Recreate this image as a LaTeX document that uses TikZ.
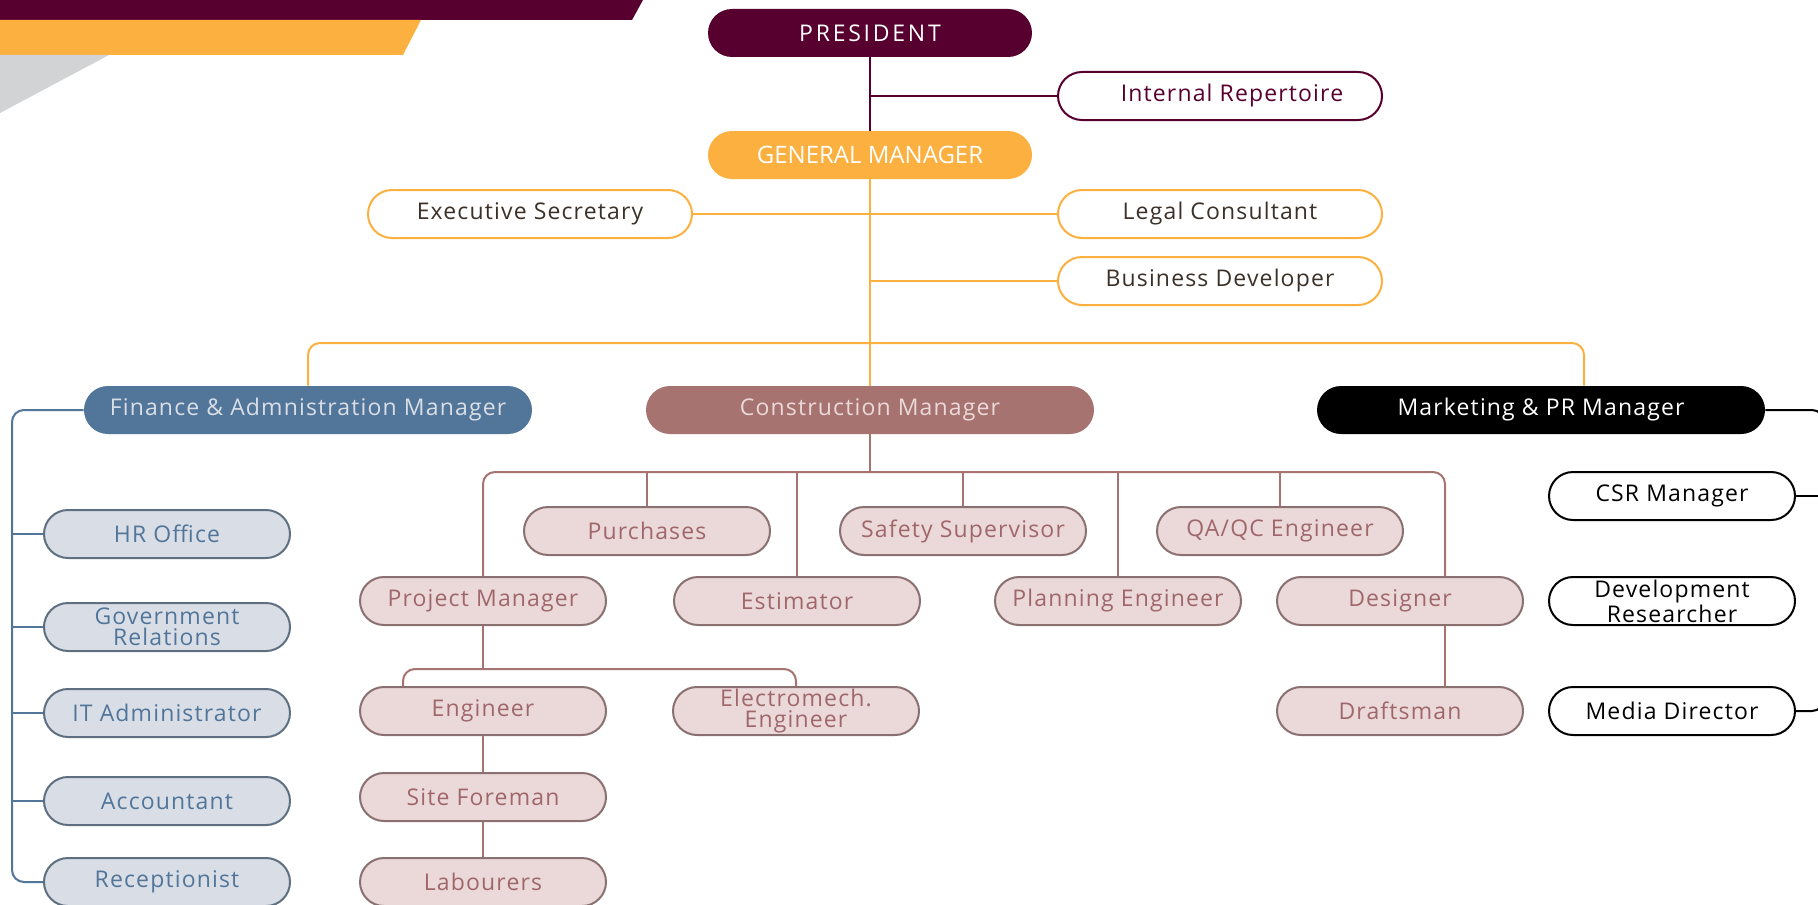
\documentclass[tikz,border=0pt]{standalone}
\usepackage{fontspec}
\setmainfont{Open Sans}
\usepackage{tikz}

\definecolor{maroon}{HTML}{570030}
\definecolor{gold}{HTML}{FBB040}
\definecolor{bandgray}{HTML}{D1D3D4}
\definecolor{finblue}{HTML}{52759A}
\definecolor{finpale}{HTML}{D9DEE6}
\definecolor{finedge}{HTML}{5E6F80}
\definecolor{conrose}{HTML}{A67371}
\definecolor{conpale}{HTML}{EBD9D9}
\definecolor{conedge}{HTML}{8A7070}
\definecolor{context}{HTML}{A0676B}
\definecolor{staffink}{HTML}{3C3129}

\tikzset{
  pill/.style={rectangle, rounded corners=12pt, minimum height=24pt, inner sep=1pt,
    align=center, font=\fontsize{11.5}{10.5}\selectfont\addfontfeatures{LetterSpace=5}},
  chief/.style={pill, minimum width=162pt, text=white},
  staff/.style={pill, draw=gold, line width=1pt, fill=white, text=staffink, minimum width=162pt},
  head/.style={pill, minimum width=224pt},
  finsub/.style={pill, draw=finedge, line width=1pt, fill=finpale, text=finblue, minimum width=123pt},
  consub/.style={pill, draw=conedge, line width=1pt, fill=conpale, text=context, minimum width=123pt},
  mktsub/.style={pill, draw=black, line width=1pt, fill=white, text=black, minimum width=123pt},
  link/.style={line width=1pt, rounded corners=6pt}
}

\begin{document}
\begin{tikzpicture}[x=0.5pt, y=-0.5pt]
  \useasboundingbox (0,0) rectangle (1818,904);
  %% corner bands
  \fill[maroon] (0,0) -- (643,0) -- (632,20) -- (0,20) -- cycle;
  \fill[gold] (0,20) -- (421,20) -- (403,55) -- (0,55) -- cycle;
  \fill[bandgray] (0,55) -- (109,55) -- (0,113) -- cycle;

  %% top
  \node[chief, fill=maroon, font=\fontsize{11.5}{12}\selectfont\addfontfeatures{LetterSpace=12}] (pres) at (870,33) {PRESIDENT};
  \node[staff, draw=maroon, text=maroon] (intrep) at (1220,96) {\hspace*{12pt}Internal Repertoire};
  \node[chief, fill=gold, font=\fontsize{12}{12}\selectfont] (gm) at (870,155) {GENERAL MANAGER};
  \node[staff] (exec) at (530,214) {Executive Secretary};
  \node[staff] (legal) at (1220,214) {Legal Consultant};
  \node[staff] (busdev) at (1220,281) {Business Developer};

  %% managers
  \node[head, fill=finblue, text=finpale] (fam) at (308,410) {Finance \& Admnistration Manager};
  \node[head, fill=conrose, text=conpale] (cm) at (870,410) {Construction Manager};
  \node[head, fill=black, text=white] (mpr) at (1541,410) {Marketing \& PR Manager};

  %% finance
  \node[finsub] (hr) at (167,534) {HR Office};
  \node[finsub] (gov) at (167,627) {Government\\Relations};
  \node[finsub] (it) at (167,713) {IT Administrator};
  \node[finsub] (acc) at (167,801) {Accountant};
  \node[finsub] (rec) at (167,882) {Receptionist};

  %% construction
  \node[consub] (pur) at (647,531) {Purchases};
  \node[consub] (saf) at (963,531) {Safety Supervisor};
  \node[consub] (qa) at (1280,531) {QA/QC Engineer};
  \node[consub] (pm) at (483,601) {Project Manager};
  \node[consub] (est) at (797,601) {Estimator};
  \node[consub] (plan) at (1118,601) {Planning Engineer};
  \node[consub] (des) at (1400,601) {Designer};
  \node[consub] (eng) at (483,711) {Engineer};
  \node[consub] (eme) at (796,711) {Electromech.\\Engineer};
  \node[consub] (draft) at (1400,711) {Draftsman};
  \node[consub] (sf) at (483,797) {Site Foreman};
  \node[consub] (lab) at (483,882) {Labourers};

  %% marketing
  \node[mktsub] (csr) at (1672,496) {CSR Manager};
  \node[mktsub] (dev) at (1672,601) {Development\\Researcher};
  \node[mktsub] (media) at (1672,711) {Media Director};

  %% spines
  \coordinate (topbar) at (870,343);
  \coordinate (cbar) at (870,472);
  \coordinate (pmbar) at (483,669);
  \coordinate (fspine) at (12,0);
  \coordinate (mspine) at (1824,0);

  %% links
  \draw[maroon, line width=1.3pt] (pres.south) -- (gm.north);
  \draw[maroon, line width=1pt] (pres.south |- intrep) -- (intrep.west);
  \draw[gold, line width=1pt] (gm.south) -- (cm.north);
  \draw[gold, line width=1pt] (exec.east) -- (legal.west);
  \draw[gold, line width=1pt] (gm.south |- busdev) -- (busdev.west);
  \draw[gold, link] (fam.north) |- (topbar) -| ([xshift=21.5pt]mpr.north);

  \draw[finblue, link] (fam.west) -| (fspine |- rec.west) -- (rec.west);
  \foreach \n in {hr,gov,it,acc}
    \draw[finblue, line width=1pt] (\n.west) -- (\n.west -| fspine);

  \draw[conrose, line width=1pt] (cm.south) -- (cbar);
  \draw[conrose, link] (pm.north) |- (cbar) -| ([xshift=22.5pt]des.north);
  \foreach \n in {pur,saf,qa,est,plan}
    \draw[conrose, line width=1pt] (\n.north) -- (\n.north |- cbar);
  \draw[conrose, line width=1pt] (pm.south) -- (pmbar);
  \draw[conrose, link] ([xshift=-40pt]eng.north) |- (pmbar) -| (eme.north);
  \draw[conrose, line width=1pt] (eng.south) -- (sf.north);
  \draw[conrose, line width=1pt] (sf.south) -- (lab.north);
  \draw[conrose, line width=1pt] ([xshift=22.5pt]des.south) -- ([xshift=22.5pt]draft.north);

  \draw[black, link] (mpr.east) -| (mspine |- media.east) -- (media.east);
  \draw[black, line width=1pt] (csr.east) -- (csr.east -| mspine);
\end{tikzpicture}
\end{document}
